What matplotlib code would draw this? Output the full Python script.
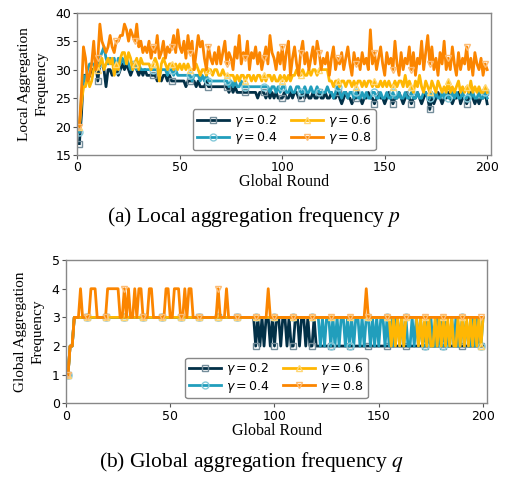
import numpy as np
import matplotlib
matplotlib.use("Agg")
import matplotlib.pyplot as plt

# rounds 1..200
rounds = np.arange(1, 201)
gamma_labels = [r'$\gamma = 0.2$', r'$\gamma = 0.4$', r'$\gamma = 0.6$', r'$\gamma = 0.8$']
colors = ['#023047', '#219ebc', '#ffb703', '#fb8500']
markers = ['s', 'o', '^', 'v']

# (a) local aggregation frequency p
local_g02 = [
    17, 22, 29, 29, 28, 29, 30, 30, 31, 28, 31, 31, 30, 27, 30, 30, 29, 30, 30, 29,
    30, 31, 30, 31, 30, 29, 30, 31, 30, 29, 30, 29, 30, 29, 29, 29, 29, 29, 28, 29,
    28, 29, 29, 28, 29, 28, 28, 28, 28, 28, 28, 28, 27, 28, 28, 28, 28, 27, 28, 27,
    27, 27, 28, 27, 27, 27, 27, 27, 27, 27, 27, 27, 27, 26, 27, 26, 27, 26, 26, 26,
    26, 26, 26, 26, 26, 26, 26, 25, 26, 26, 26, 25, 26, 25, 26, 25, 26, 25, 25, 25,
    26, 25, 25, 26, 25, 26, 26, 25, 25, 26, 25, 26, 25, 25, 26, 25, 25, 26, 25, 25,
    26, 25, 25, 26, 25, 25, 26, 25, 24, 25, 26, 25, 25, 24, 25, 25, 26, 25, 24, 25,
    25, 26, 25, 25, 24, 25, 26, 25, 25, 24, 25, 26, 25, 24, 25, 25, 26, 25, 24, 25,
    26, 25, 24, 25, 25, 26, 25, 24, 25, 26, 25, 23, 25, 24, 25, 26, 25, 24, 25, 25,
    26, 25, 24, 25, 25, 26, 24, 25, 25, 24, 25, 26, 25, 24, 25, 24, 25, 25, 26, 24,
]
local_g04 = [
    19, 25, 29, 28, 30, 31, 31, 31, 30, 31, 32, 33, 34, 32, 31, 32, 31, 32, 30, 32,
    31, 32, 31, 32, 31, 30, 30, 31, 30, 31, 30, 30, 30, 30, 30, 30, 30, 30, 30, 29,
    30, 30, 30, 29, 30, 30, 29, 30, 29, 29, 29, 29, 29, 29, 29, 28, 29, 29, 29, 28,
    29, 28, 29, 28, 28, 28, 28, 28, 28, 28, 28, 28, 28, 27, 28, 27, 28, 27, 27, 28,
    27, 27, 27, 27, 27, 27, 27, 27, 27, 27, 27, 27, 27, 26, 27, 27, 26, 27, 26, 27,
    27, 26, 26, 27, 26, 26, 27, 27, 26, 26, 27, 26, 26, 27, 26, 26, 27, 26, 26, 26,
    26, 27, 26, 26, 25, 26, 27, 26, 25, 26, 26, 25, 26, 26, 25, 26, 25, 25, 26, 25,
    26, 25, 25, 26, 26, 25, 25, 26, 25, 25, 26, 25, 25, 26, 25, 25, 26, 25, 25, 26,
    25, 25, 26, 25, 25, 26, 25, 25, 26, 26, 25, 25, 26, 25, 26, 25, 25, 26, 25, 26,
    25, 25, 26, 25, 26, 25, 25, 26, 25, 25, 26, 25, 26, 25, 25, 26, 25, 25, 26, 25,
]
local_g06 = [
    20, 24, 27, 27, 29, 27, 28, 30, 31, 30, 31, 32, 30, 31, 32, 31, 32, 29, 31, 30,
    32, 33, 33, 31, 33, 32, 30, 31, 32, 30, 32, 31, 31, 31, 31, 30, 31, 32, 31, 28,
    31, 32, 31, 30, 31, 31, 30, 31, 30, 31, 30, 31, 30, 31, 30, 30, 30, 31, 30, 29,
    30, 30, 29, 30, 30, 29, 30, 30, 29, 29, 30, 29, 29, 29, 29, 29, 28, 29, 28, 29,
    29, 28, 29, 29, 28, 29, 28, 29, 29, 28, 29, 28, 29, 29, 28, 29, 28, 28, 29, 28,
    29, 28, 29, 28, 29, 29, 30, 29, 29, 30, 29, 29, 30, 29, 30, 30, 29, 30, 30, 30,
    30, 30, 28, 28, 27, 28, 28, 27, 28, 28, 27, 28, 28, 27, 28, 27, 28, 28, 27, 28,
    27, 28, 28, 27, 28, 27, 27, 28, 27, 28, 27, 28, 27, 27, 28, 27, 28, 28, 27, 29,
    27, 28, 27, 26, 28, 27, 29, 27, 26, 28, 27, 26, 28, 27, 26, 28, 27, 26, 27, 26,
    28, 26, 27, 26, 27, 28, 26, 27, 26, 27, 26, 28, 26, 27, 26, 27, 26, 26, 27, 26,
]
local_g08 = [
    20, 26, 34, 32, 28, 29, 31, 35, 30, 32, 38, 35, 34, 33, 34, 36, 34, 33, 35, 35,
    36, 36, 38, 37, 35, 37, 36, 35, 38, 34, 35, 33, 34, 33, 35, 32, 34, 33, 36, 32,
    33, 35, 32, 34, 33, 34, 36, 33, 37, 34, 33, 35, 32, 36, 33, 35, 30, 33, 36, 34,
    35, 32, 30, 34, 32, 31, 33, 31, 34, 31, 33, 35, 31, 33, 32, 30, 34, 32, 36, 31,
    33, 32, 35, 30, 33, 32, 34, 31, 33, 30, 32, 34, 31, 36, 33, 32, 30, 33, 31, 34,
    30, 33, 35, 29, 32, 34, 31, 29, 33, 35, 31, 33, 30, 32, 34, 31, 35, 33, 30, 32,
    31, 33, 29, 32, 34, 30, 32, 31, 33, 30, 32, 34, 31, 29, 33, 31, 32, 30, 33, 31,
    32, 30, 37, 31, 33, 30, 32, 34, 31, 29, 33, 31, 32, 30, 35, 31, 29, 33, 30, 32,
    31, 34, 30, 33, 29, 32, 31, 35, 30, 33, 36, 31, 34, 30, 32, 29, 33, 31, 35, 30,
    32, 30, 34, 31, 29, 33, 30, 32, 31, 34, 30, 32, 29, 33, 31, 30, 32, 29, 31, 30,
]

# (b) global aggregation frequency q
global_g02 = [
    1, 2, 2, 3, 3, 3, 3, 3, 3, 3, 3, 3, 3, 3, 3, 3, 3, 3, 3, 3,
    3, 3, 3, 3, 3, 3, 3, 3, 3, 3, 3, 3, 3, 3, 3, 3, 3, 3, 3, 3,
    3, 3, 3, 3, 3, 3, 3, 3, 3, 3, 3, 3, 3, 3, 3, 3, 3, 3, 3, 3,
    3, 3, 3, 3, 3, 3, 3, 3, 3, 3, 3, 3, 3, 3, 3, 3, 3, 3, 3, 3,
    3, 3, 3, 3, 3, 3, 3, 3, 3, 3, 2, 3, 2, 3, 2, 3, 3, 2, 3, 2,
    3, 3, 2, 3, 3, 2, 3, 2, 2, 3, 3, 2, 3, 3, 2, 3, 2, 2, 3, 2,
    2, 2, 2, 2, 2, 2, 2, 2, 2, 2, 2, 2, 2, 2, 2, 2, 2, 2, 2, 2,
    2, 2, 2, 2, 2, 2, 2, 2, 2, 2, 2, 2, 2, 2, 2, 2, 2, 2, 2, 2,
    2, 2, 2, 2, 2, 2, 2, 2, 2, 2, 2, 2, 2, 2, 2, 2, 2, 2, 2, 2,
    2, 2, 2, 2, 2, 2, 2, 2, 2, 2, 2, 2, 2, 2, 2, 2, 2, 2, 2, 2,
]
global_g04 = [
    1, 2, 2, 3, 3, 3, 3, 3, 3, 3, 3, 3, 3, 3, 3, 3, 3, 3, 3, 3,
    3, 3, 3, 3, 3, 3, 3, 3, 3, 3, 3, 3, 3, 3, 3, 3, 3, 3, 3, 3,
    3, 3, 3, 3, 3, 3, 3, 3, 3, 3, 3, 3, 3, 3, 3, 3, 3, 3, 3, 3,
    3, 3, 3, 3, 3, 3, 3, 3, 3, 3, 3, 3, 3, 3, 3, 3, 3, 3, 3, 3,
    3, 3, 3, 3, 3, 3, 3, 3, 3, 3, 3, 3, 3, 3, 3, 3, 3, 3, 3, 3,
    3, 3, 3, 3, 3, 3, 3, 3, 3, 3, 3, 3, 3, 3, 3, 3, 3, 3, 3, 3,
    3, 2, 3, 2, 3, 3, 2, 3, 2, 3, 2, 3, 3, 2, 3, 2, 3, 2, 3, 3,
    2, 3, 2, 3, 3, 2, 3, 2, 3, 2, 3, 3, 2, 3, 2, 3, 2, 3, 3, 2,
    3, 2, 3, 2, 2, 3, 2, 3, 2, 3, 2, 2, 3, 2, 3, 2, 2, 3, 2, 3,
    2, 3, 2, 2, 3, 2, 3, 2, 2, 3, 2, 3, 2, 2, 3, 2, 3, 2, 2, 3,
]
global_g06 = [
    1, 2, 2, 3, 3, 3, 3, 3, 3, 3, 3, 3, 3, 3, 3, 3, 3, 3, 3, 3,
    3, 3, 3, 3, 3, 3, 3, 3, 3, 3, 3, 3, 3, 3, 3, 3, 3, 3, 3, 3,
    3, 3, 3, 3, 3, 3, 3, 3, 3, 3, 3, 3, 3, 3, 3, 3, 3, 3, 3, 3,
    3, 3, 3, 3, 3, 3, 3, 3, 3, 3, 3, 3, 3, 3, 3, 3, 3, 3, 3, 3,
    3, 3, 3, 3, 3, 3, 3, 3, 3, 3, 3, 3, 3, 3, 3, 3, 3, 3, 3, 3,
    3, 3, 3, 3, 3, 3, 3, 3, 3, 3, 3, 3, 3, 3, 3, 3, 3, 3, 3, 3,
    3, 3, 3, 3, 3, 3, 3, 3, 3, 3, 3, 3, 3, 3, 3, 3, 3, 3, 3, 3,
    3, 3, 3, 3, 3, 3, 3, 3, 3, 3, 3, 3, 3, 3, 3, 2, 3, 2, 3, 2,
    3, 2, 3, 3, 3, 3, 3, 3, 2, 3, 2, 3, 2, 3, 2, 2, 3, 2, 3, 2,
    3, 2, 3, 2, 3, 2, 2, 3, 2, 3, 2, 3, 2, 3, 2, 3, 2, 3, 2, 3,
]
global_g08 = [
    1, 2, 2, 3, 3, 3, 4, 3, 3, 3, 3, 4, 4, 4, 3, 3, 3, 3, 3, 4,
    4, 4, 4, 4, 4, 3, 3, 4, 3, 4, 3, 3, 4, 3, 4, 4, 3, 3, 3, 4,
    4, 3, 3, 3, 3, 3, 3, 4, 4, 3, 3, 4, 4, 4, 3, 3, 4, 3, 4, 4,
    3, 3, 3, 3, 3, 3, 3, 3, 3, 3, 3, 3, 4, 3, 3, 3, 4, 3, 3, 3,
    3, 3, 3, 3, 3, 3, 3, 3, 3, 3, 3, 3, 3, 3, 3, 3, 4, 3, 3, 3,
    3, 3, 3, 3, 3, 3, 3, 3, 3, 3, 3, 3, 3, 3, 3, 3, 3, 3, 3, 3,
    3, 3, 3, 3, 3, 3, 3, 3, 3, 3, 3, 3, 3, 3, 3, 3, 3, 3, 3, 3,
    3, 3, 3, 4, 3, 3, 3, 3, 3, 3, 3, 3, 3, 3, 3, 3, 3, 3, 3, 3,
    3, 3, 3, 3, 3, 3, 3, 3, 3, 3, 3, 3, 3, 3, 3, 3, 3, 3, 3, 3,
    3, 3, 3, 3, 3, 3, 3, 3, 3, 3, 3, 3, 3, 3, 3, 3, 3, 3, 3, 3,
]

local_series = [local_g02, local_g04, local_g06, local_g08]
global_series = [global_g02, global_g04, global_g06, global_g08]

plt.rcParams['font.family'] = 'DejaVu Sans'
plt.rcParams['mathtext.fontset'] = 'dejavusans'

TICK_FS = 9
LEG_FS = 9
LABEL_FS = 11
CAP_FS = 15.5
serif = 'Liberation Serif'


def lighten(c, amt=0.45):
    rgb = np.array(matplotlib.colors.to_rgb(c))
    return tuple(rgb + (1 - rgb) * amt)


def draw_panel(ax, series, ylim, yticks, ylabel):
    for vals, lab, c, m in zip(series, gamma_labels, colors, markers):
        ax.plot(rounds, vals, color=c, lw=2, marker=m, markevery=9, ms=5,
                mfc='none', mec=lighten(c), mew=1, label=lab)
    ax.set_xlim(0, 202)
    ax.set_ylim(*ylim)
    ax.set_xticks([0, 50, 100, 150, 200])
    ax.set_yticks(yticks)
    ax.tick_params(labelsize=TICK_FS, length=3, width=0.8, color='#555555', pad=1.5)
    for sp in ax.spines.values():
        sp.set_color('#888888')
        sp.set_linewidth(1)
    ax.set_xlabel('Global Round', family=serif, fontsize=LABEL_FS + 0.5, labelpad=0)
    ax.set_ylabel(ylabel, family=serif, fontsize=LABEL_FS, labelpad=5, linespacing=1.45)
    leg = ax.legend(ncol=2, loc='lower center', bbox_to_anchor=(0.5, 0.0),
                    borderaxespad=0.4, fontsize=LEG_FS, handlelength=2.6,
                    columnspacing=1.0, handletextpad=0.4, labelspacing=0.1,
                    borderpad=0.3, fancybox=True, framealpha=1)
    leg.get_frame().set_edgecolor('#888888')


fig = plt.figure(figsize=(5.07, 4.78), dpi=100)
ax1 = fig.add_axes([0.1525, 0.6757, 0.8165, 0.2977])
ax2 = fig.add_axes([0.130, 0.156, 0.831, 0.300])

draw_panel(ax1, local_series, (15, 40), [15, 20, 25, 30, 35, 40],
           'Local Aggregation\nFrequency')
draw_panel(ax2, global_series, (0, 5), [0, 1, 2, 3, 4, 5],
           'Global Aggregation\nFrequency')

fig.text(0.5, 0.546, '(a) Local aggregation frequency $p$', ha='center', va='center',
         family=serif, fontsize=CAP_FS, math_fontfamily='stix')
fig.text(0.495, 0.033, '(b) Global aggregation frequency $q$', ha='center', va='center',
         family=serif, fontsize=CAP_FS, math_fontfamily='stix')

fig.savefig('out.png', dpi=100)
